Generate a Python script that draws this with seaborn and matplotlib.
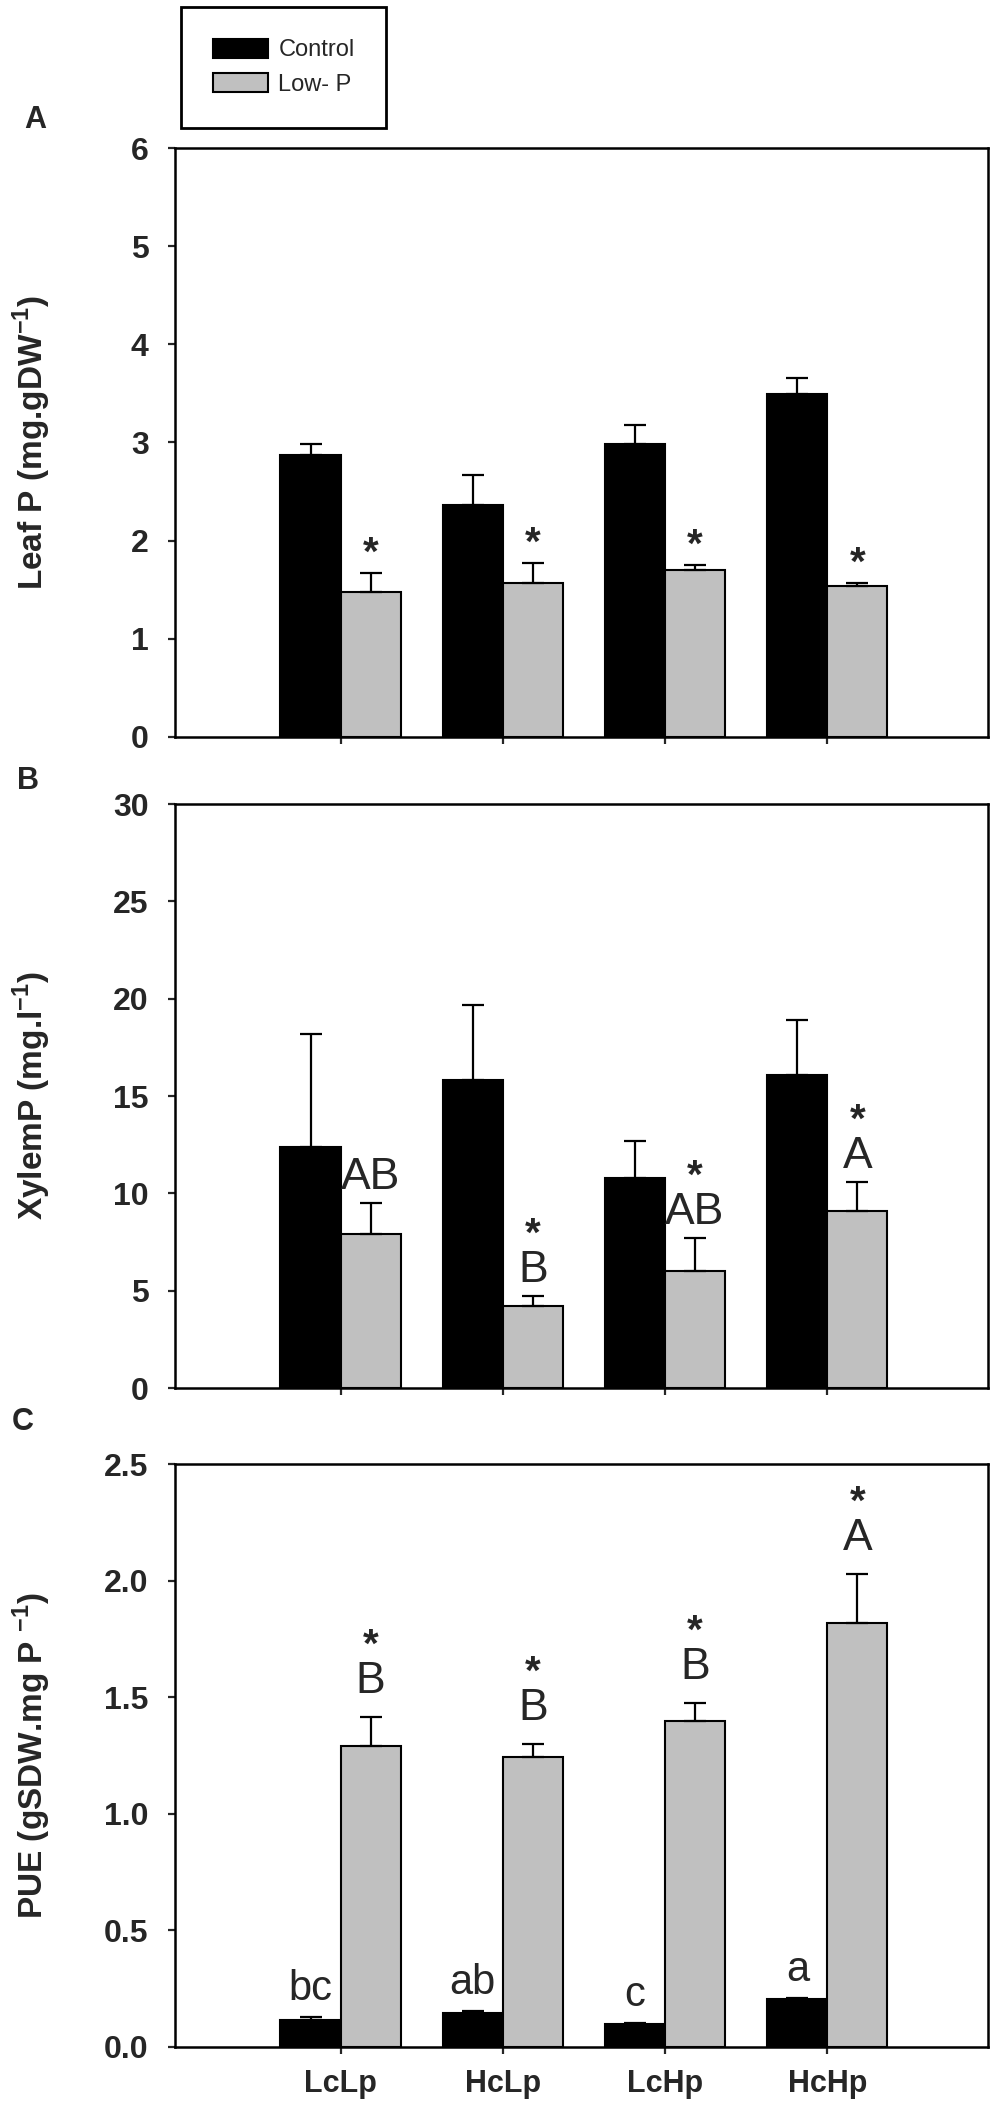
import numpy as np
import pandas as pd
import matplotlib
matplotlib.use("Agg")
import matplotlib.pyplot as plt
import seaborn as sns
from matplotlib.patches import Patch
from matplotlib.ticker import FormatStrFormatter, MultipleLocator

# ---------------- data ----------------
categories = ["LcLp", "HcLp", "LcHp", "HcHp"]
treatments = ["Control", "Low- P"]

leaf_control = [2.87, 2.36, 2.98, 3.49]
leaf_control_se = [0.11, 0.31, 0.20, 0.17]
leaf_lowp = [1.48, 1.57, 1.70, 1.54]
leaf_lowp_se = [0.19, 0.20, 0.05, 0.03]

xylem_control = [12.4, 15.8, 10.8, 16.1]
xylem_control_se = [5.8, 3.9, 1.9, 2.8]
xylem_lowp = [7.9, 4.2, 6.0, 9.1]
xylem_lowp_se = [1.6, 0.55, 1.7, 1.5]

pue_control = [0.115, 0.146, 0.098, 0.204]
pue_control_se = [0.012, 0.010, 0.003, 0.008]
pue_lowp = [1.29, 1.245, 1.40, 1.82]
pue_lowp_se = [0.125, 0.055, 0.077, 0.21]

leaf_lowp_sig = ["*", "*", "*", "*"]
xylem_lowp_letters = ["AB", "B", "AB", "A"]
xylem_lowp_sig = ["", "*", "*", "*"]
pue_control_letters = ["bc", "ab", "c", "a"]
pue_lowp_letters = ["B", "B", "B", "A"]
pue_lowp_sig = ["*", "*", "*", "*"]

# ---------------- style ----------------
sns.set_style("ticks")
plt.rcParams['font.family'] = ['Liberation Sans', 'DejaVu Sans']
plt.rcParams['font.weight'] = 'bold'
plt.rcParams['mathtext.fontset'] = 'custom'
plt.rcParams['mathtext.rm'] = 'Liberation Sans'
plt.rcParams['mathtext.bf'] = 'Liberation Sans:bold'
plt.rcParams['axes.edgecolor'] = 'black'
plt.rcParams['axes.linewidth'] = 1.8

LETTER_FONT = ['Liberation Sans', 'DejaVu Sans']
COLORS = {"Control": "black", "Low- P": "#c0c0c0"}

W, H = 1000, 2112
fig = plt.figure(figsize=(W / 100, H / 100), dpi=100)

def axes_px(top, bottom, left=175, right=988):
    return fig.add_axes([left / W, 1 - bottom / H, (right - left) / W, (bottom - top) / H])

axA = axes_px(148, 737)
axB = axes_px(804, 1388)
axC = axes_px(1464, 2047)


def draw_panel(ax, ctrl, ctrl_se, low, low_se, ylabel, ymax, ystep, fmt, show_x):
    df = pd.DataFrame({
        "category": categories * 2,
        "treatment": [treatments[0]] * 4 + [treatments[1]] * 4,
        "value": list(ctrl) + list(low),
    })
    sns.barplot(data=df, x="category", y="value", hue="treatment",
                order=categories, hue_order=treatments, palette=COLORS,
                width=0.74, gap=0, edgecolor="black", linewidth=1.5,
                errorbar=None, legend=False, ax=ax, saturation=1)
    tops = {}
    ses = {"Control": ctrl_se, "Low- P": low_se}
    for t, cont in zip(treatments, ax.containers):
        xs = np.array([p.get_x() + p.get_width() / 2 for p in cont])
        idx = np.rint(xs).astype(int)
        hs = np.array([p.get_height() for p in cont])
        se = np.array([ses[t][i] for i in idx])
        ax.errorbar(xs, hs, yerr=[np.zeros_like(se), se], fmt="none",
                    ecolor="black", elinewidth=1.6, capsize=8, capthick=1.6,
                    zorder=4)
        tops[t] = {i: (x, h + s) for i, x, h, s in zip(idx, xs, hs, se)}
    ax.set_xlim(-1.02, 3.99)
    ax.set_ylim(0, ymax)
    ax.yaxis.set_major_locator(MultipleLocator(ystep))
    ax.yaxis.set_major_formatter(FormatStrFormatter(fmt))
    ax.set_xlabel("")
    ax.set_ylabel(ylabel, fontsize=24, fontweight="bold")
    ax.yaxis.set_label_coords(-0.150, 0.5)
    ax.tick_params(axis="both", direction="out", length=5, width=1.6,
                   labelsize=23, pad=14, top=False, right=False,
                   labelbottom=show_x)
    ax.tick_params(axis="x", pad=11, labelsize=22)
    for lab in ax.get_yticklabels() + ax.get_xticklabels():
        lab.set_fontweight("bold")
    for s in ax.spines.values():
        s.set_linewidth(1.8)
        s.set_color("black")
    return tops


def annotate(ax, pos, texts, offset_px, size, weight="normal"):
    for i, txt in enumerate(texts):
        if not txt:
            continue
        x, y = pos[i]
        ax.annotate(txt, xy=(x, y), xytext=(0, offset_px * 0.72),
                    textcoords="offset points", ha="center", va="baseline",
                    fontsize=size, fontweight=weight, family=LETTER_FONT,
                    zorder=5)


tA = draw_panel(axA, leaf_control, leaf_control_se, leaf_lowp, leaf_lowp_se,
                r"Leaf P (mg.gDW$^{\mathbf{-1}}$)", 6, 1, "%d", False)
tB = draw_panel(axB, xylem_control, xylem_control_se, xylem_lowp, xylem_lowp_se,
                r"XylemP (mg.l$^{\mathbf{-1}}$)", 30, 5, "%d", False)
tC = draw_panel(axC, pue_control, pue_control_se, pue_lowp, pue_lowp_se,
                r"PUE (gSDW.mg P $^{\mathbf{-1}}$)", 2.5, 0.5, "%.1f", True)

# Panel A: asterisks
annotate(axA, tA["Low- P"], leaf_lowp_sig, 8, 29, "bold")
# Panel B
annotate(axB, tB["Low- P"], xylem_lowp_letters, 14, 32)
annotate(axB, tB["Low- P"], xylem_lowp_sig, 50, 29, "bold")
# Panel C
annotate(axC, tC["Control"], pue_control_letters, 17, 30)
annotate(axC, tC["Low- P"], pue_lowp_letters, 24, 32)
annotate(axC, tC["Low- P"], pue_lowp_sig, 60, 29, "bold")

# Panel letters
for letter, (px, py) in zip(["A", "B", "C"], [(35, 120), (28, 781), (23, 1422)]):
    fig.text(px / W, 1 - py / H, letter, fontsize=22, fontweight="bold",
             ha="center", va="center")

# Legend
handles = [Patch(facecolor=COLORS[t], edgecolor="black", linewidth=1.5, label=t)
           for t in treatments]
leg = fig.legend(handles=handles, loc="upper left",
                 bbox_to_anchor=(181 / W, 1 - 7 / H), frameon=True,
                 fancybox=False, edgecolor="black", framealpha=1,
                 prop={"size": 17, "weight": "normal"}, borderpad=1.35,
                 handlelength=2.35, handleheight=0.85, handletextpad=0.42,
                 labelspacing=0.5, borderaxespad=0)
leg.get_frame().set_linewidth(2.0)

fig.savefig("out.png", dpi=100)
